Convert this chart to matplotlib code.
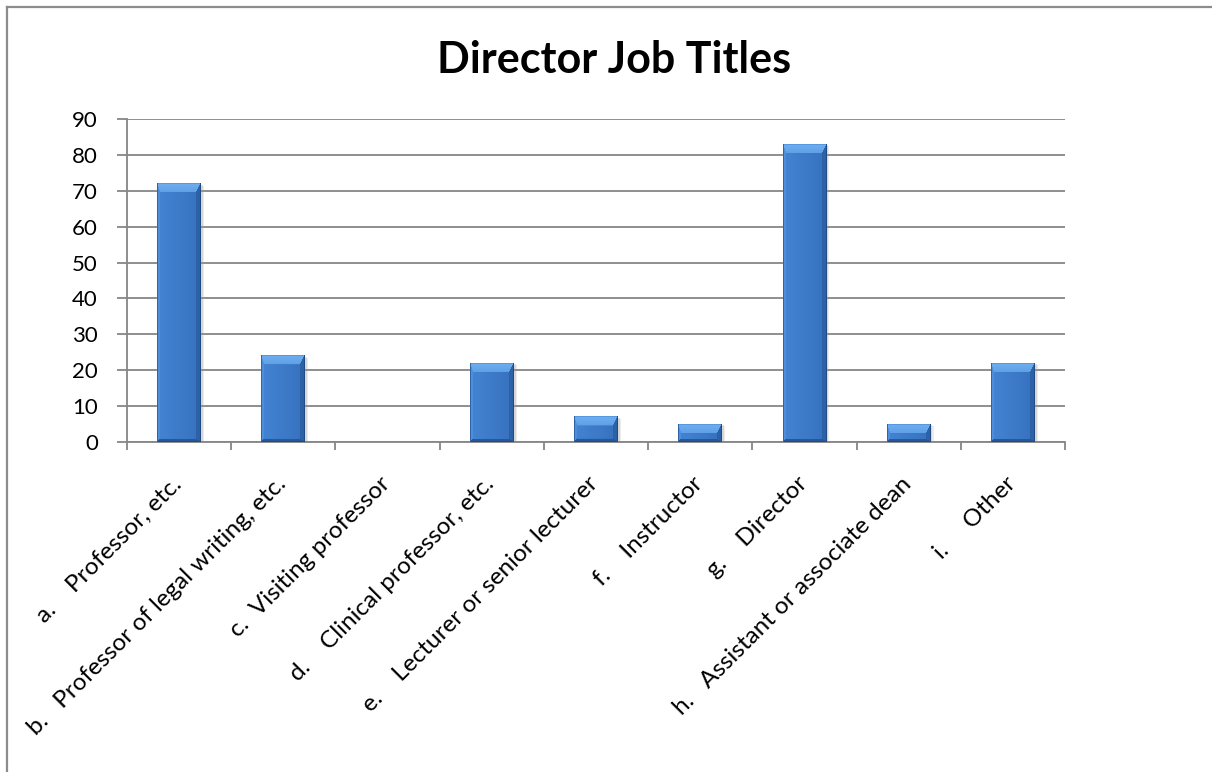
import numpy as np
import matplotlib.pyplot as plt
from matplotlib.colors import to_rgb
from matplotlib.lines import Line2D

plt.rcParams['font.family'] = ['Lato', 'DejaVu Sans']

# data
letters = ['a.', 'b.', 'c.', 'd.', 'e.', 'f.', 'g.', 'h.', 'i.']
titles = ['Professor, etc.', 'Professor of legal writing, etc.',
          'Visiting professor', 'Clinical professor, etc.',
          'Lecturer or senior lecturer', 'Instructor', 'Director',
          'Assistant or associate dean', 'Other']
gaps = [4, 3, 2, 4, 4, 4, 4, 3, 5]   # spaces standing in for the tab
counts = [72, 24, 0, 22, 7, 5, 83, 5, 22]
yticks = list(range(0, 100, 10))

W, H = 1212, 772
fig = plt.figure(figsize=(W / 100, H / 100), dpi=100)
ax = fig.add_axes([127 / W, 1 - 442 / H, (1065 - 127) / W, (442 - 119) / H])

ymax = 90
bar_w = 0.42
px_per_y = (442 - 119) / ymax
px_per_x = (1065 - 127) / len(counts)


def bevel_image(h, w, bt=9, bb=3, bl=3, br=5):
    """RGB array for an Excel-2007 style bevelled bar, h x w pixels."""
    top = np.array(to_rgb('#6eaef0'))
    left = np.array(to_rgb('#4f8ed8'))
    right = np.array(to_rgb('#2d62a6'))
    bottom = np.array(to_rgb('#28579a'))
    face_l = np.array(to_rgb('#4384d2'))
    face_r = np.array(to_rgb('#3771bf'))
    bt = min(bt, h / 2)
    img = np.zeros((h, w, 3))
    for r in range(h):
        for c in range(w):
            d = {'t': r / bt, 'b': (h - 1 - r) / bb,
                 'l': c / bl, 'r': (w - 1 - c) / br}
            k = min(d, key=d.get)
            if d[k] < 1:
                col = {'t': top, 'b': bottom, 'l': left, 'r': right}[k]
                if k == 't':
                    col = top * (1 - 0.35 * d[k]) + face_l * 0.35 * d[k]
            else:
                t = c / max(w - 1, 1)
                col = face_l * (1 - t) + face_r * t
            img[r, c] = col
    img[0, :] = to_rgb('#5898e0')
    img[-1, :] = to_rgb('#1f4b86')
    img[:, 0] = to_rgb('#2f64a8')
    img[:, -1] = to_rgb('#1f4b86')
    return img


x = np.arange(len(counts))
for xi, v in zip(x, counts):
    if v <= 0:
        continue
    hp = max(int(round(v * px_per_y)), 2)
    wp = int(round(bar_w * px_per_x))
    # soft shadow
    for k, a in ((0.03, 0.18), (0.018, 0.25)):
        ax.bar(xi + k, v, width=bar_w, bottom=-k * 20, color='#9a9a9a',
               alpha=a, zorder=2, linewidth=0)
    ax.imshow(bevel_image(hp, wp), extent=(xi - bar_w / 2, xi + bar_w / 2, 0, v),
              aspect='auto', zorder=3, interpolation='bilinear')

ax.set_xlim(-0.5, len(counts) - 0.5)
ax.set_ylim(0, ymax)

ax.set_yticks(yticks)
ax.yaxis.grid(True, color='#868686', linewidth=1.3)
ax.set_axisbelow(True)
ax.tick_params(axis='y', length=7, width=1.3, color='#868686', pad=14,
               labelsize=16)

ax.set_xticks(x)
ax.set_xticklabels([])
ax.set_xticks(np.arange(len(counts) + 1) - 0.5, minor=True)
ax.tick_params(axis='x', which='major', length=0)
ax.tick_params(axis='x', which='minor', length=6, width=1.3, color='#868686')

for xi, let, ttl, g in zip(x, letters, titles, gaps):
    ax.text(xi - 0.08, -8.7, let + ' ' * g + ttl, rotation=45,
            rotation_mode='anchor', ha='right', va='top', fontsize=17.5,
            transform=ax.transData)

for side in ('top', 'right'):
    ax.spines[side].set_visible(False)
for side in ('left', 'bottom'):
    ax.spines[side].set_color('#868686')
    ax.spines[side].set_linewidth(1.3)

fig.text(614 / W, 1 - 73 / H, 'Director Job Titles', ha='center',
         va='baseline', fontsize=31, fontweight='bold')

# outer chart frame (only top and left edges are visible in the crop)
fig.add_artist(Line2D([7 / W, 1], [1 - 7 / H, 1 - 7 / H], color='#8c8c8c',
                      linewidth=1.6, transform=fig.transFigure))
fig.add_artist(Line2D([7 / W, 7 / W], [0, 1 - 7 / H], color='#8c8c8c',
                      linewidth=1.6, transform=fig.transFigure))

fig.savefig('out.png', dpi=100)
